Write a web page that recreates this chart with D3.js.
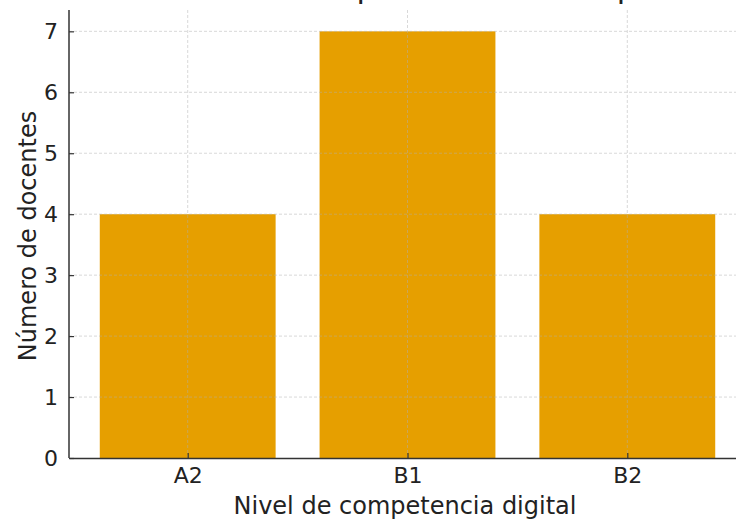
<!DOCTYPE html>
<html>
<head>
<meta charset="utf-8">
<script src="https://cdn.jsdelivr.net/npm/d3@7"></script>
<style>
  html, body { margin: 0; padding: 0; background: #fff; }
  svg { display: block; }
</style>
</head>
<body>
<script>
const categories = ["A2", "B1", "B2"];
const values = [4, 7, 4];
const yTicks = [0, 1, 2, 3, 4, 5, 6, 7];
const titleText = "Distribución de docentes por nivel de competencia digital";
const xLabel = "Nivel de competencia digital";
const yLabel = "Número de docentes";

(function () {
const W = 736, H = 521;
const mLeft = 69, mBottom = 458, mTop = 10, mRight = 746;

const svg = d3.select("body").append("svg").attr("width", W).attr("height", H)
  .style("font-family", "'DejaVu Sans', sans-serif");

// linear x in category index units, like matplotlib
const x = d3.scaleLinear().domain([-0.54, 2.54]).range([mLeft, mRight]);
const y = d3.scaleLinear().domain([0, 7.35]).range([mBottom, mTop]);
const barW = 0.8;

// bars
svg.append("g").selectAll("rect").data(values).join("rect")
  .attr("x", (d, i) => x(i - barW / 2))
  .attr("width", (d, i) => x(i + barW / 2) - x(i - barW / 2))
  .attr("y", d => y(d))
  .attr("height", d => y(0) - y(d))
  .attr("fill", "#E69F00");

// grid
const grid = svg.append("g").attr("stroke", "#b0b0b0").attr("stroke-dasharray", "3,2")
  .attr("stroke-width", 0.8).attr("opacity", 0.6);
grid.selectAll("line.h").data(yTicks.filter(t => t > 0)).join("line")
  .attr("x1", mLeft).attr("x2", mRight)
  .attr("y1", d => y(d)).attr("y2", d => y(d));
grid.selectAll("line.v").data(categories).join("line")
  .attr("x1", (d, i) => x(i)).attr("x2", (d, i) => x(i))
  .attr("y1", mTop).attr("y2", mBottom);

// axes
const yAxis = d3.axisLeft(y).tickValues(yTicks).tickFormat(d3.format("d")).tickSizeInner(-5).tickSizeOuter(0).tickPadding(11);
const gy = svg.append("g").attr("transform", `translate(${mLeft},0)`).call(yAxis);
const xAxis = d3.axisBottom(x).tickValues([0, 1, 2]).tickFormat(i => categories[i]).tickSizeInner(-5).tickSizeOuter(0).tickPadding(9);
const gx = svg.append("g").attr("transform", `translate(0,${mBottom})`).call(xAxis);

[gx, gy].forEach(g => {
  g.select(".domain").attr("stroke", "#333").attr("stroke-width", 1.5);
  g.selectAll(".tick line").attr("stroke", "#333").attr("stroke-width", 1.2);
  g.selectAll(".tick text").attr("fill", "#222").style("font-size", "22px")
    .style("font-family", "'DejaVu Sans', sans-serif");
});
gy.select(".domain").attr("d", `M0,${mTop}V${mBottom}`);

// labels
svg.append("text").attr("x", 405).attr("y", 514)
  .attr("text-anchor", "middle").attr("fill", "#222").style("font-size", "24px").text(xLabel);
svg.append("text").attr("transform", `translate(36,236) rotate(-90)`)
  .attr("text-anchor", "middle").attr("fill", "#222").style("font-size", "24px").text(yLabel);

// title (mostly above the visible area, as in the reference)
svg.append("text").attr("x", 409).attr("y", -2)
  .attr("text-anchor", "middle").attr("fill", "#222").style("font-size", "31px").text(titleText);
})();
</script>
</body>
</html>
